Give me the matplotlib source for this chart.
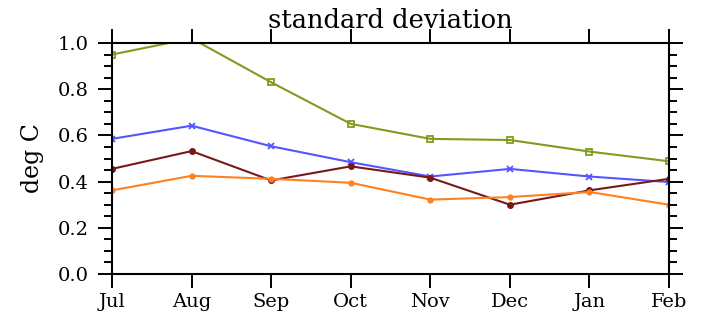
import numpy as np
import matplotlib.pyplot as plt
from matplotlib.ticker import MultipleLocator

months = ['Jul', 'Aug', 'Sep', 'Oct', 'Nov', 'Dec', 'Jan', 'Feb']

# standard deviation per month, four series
green = [0.95, 1.02, 0.83, 0.650, 0.585, 0.580, 0.530, 0.488]
blue = [0.585, 0.642, 0.553, 0.484, 0.422, 0.455, 0.422, 0.398]
maroon = [0.455, 0.532, 0.405, 0.466, 0.417, 0.300, 0.362, 0.412]
orange = [0.362, 0.425, 0.412, 0.395, 0.322, 0.333, 0.355, 0.300]

plt.rcParams['font.family'] = ['DejaVu Serif']

fig = plt.figure(figsize=(7.01, 3.23), dpi=100)
ax = fig.add_axes([112/701, 1 - 274/323, (669-112)/701, (274-43)/323])

x = np.arange(len(months))
ax.plot(x, green, color='#7f9c1e', lw=1.5, marker='s', ms=5, mfc='none', mew=1.3)
ax.plot(x, blue, color='#5555ff', lw=1.5, marker='x', ms=5, mew=1.3)
ax.plot(x, maroon, color='#7a1818', lw=1.5, marker='o', ms=4)
ax.plot(x, orange, color='#ff8020', lw=1.5, marker='o', ms=3.5)

ax.set_xlim(0, len(months) - 1)
ax.set_ylim(0, 1.0)
ax.set_xticks(x)
ax.set_xticklabels(months)
ax.yaxis.set_major_locator(MultipleLocator(0.2))
ax.yaxis.set_minor_locator(MultipleLocator(0.05))
ax.yaxis.set_major_formatter(plt.FormatStrFormatter('%.1f'))

for s in ax.spines.values():
    s.set_linewidth(1.5)
ax.tick_params(axis='both', which='major', direction='out', length=10, width=1.4,
               labelsize=14, top=True, right=True)
ax.tick_params(axis='y', which='major', pad=7)
ax.tick_params(axis='x', which='major', pad=4)
ax.tick_params(axis='y', which='minor', direction='out', length=5.5, width=1.4, right=True)

ax.set_title('standard deviation', fontsize=18.5, pad=11)
ax.set_ylabel('deg C', fontsize=17, labelpad=10)

fig.savefig('out.png', dpi=100)
